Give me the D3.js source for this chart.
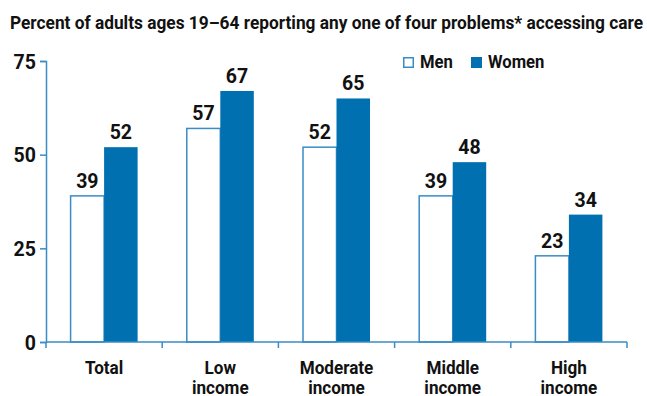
<!DOCTYPE html>
<html>
<head>
<meta charset="utf-8">
<script src="https://cdn.jsdelivr.net/npm/d3@7"></script>
<style>
  html, body { margin: 0; padding: 0; background: #fff; }
  svg { display: block; }
  text { font-family: Roboto, "Liberation Sans", sans-serif; font-weight: bold; fill: #111; }
</style>
</head>
<body>
<svg id="chart" width="647" height="396"></svg>
<script>
// Survey groups and the share reporting an access problem
const categories = [["Total"], ["Low", "income"], ["Moderate", "income"], ["Middle", "income"], ["High", "income"]];
const menValues = [39, 57, 52, 39, 23];
const womenValues = [52, 67, 65, 48, 34];
const yTicks = [0, 25, 50, 75];
const seriesNames = ["Men", "Women"];
const titleText = "Percent of adults ages 19\u201364 reporting any one of four problems* accessing care";

const blue = "#0070b0";
const axisBlue = "#3a8cc6";
const narrow = 0.9;   // horizontal squeeze for word labels

const svg = d3.select("#chart");
const plotLeft = 46, plotRight = 627, plotTop = 61, plotBase = 342;

const x = d3.scaleBand()
  .domain(d3.range(categories.length))
  .range([plotLeft, plotRight]);

const y = d3.scaleLinear().domain([0, 75]).range([plotBase, plotTop]);

const barW = 33.5;

// place a text at (px, py) with horizontal squeeze
function squeezed(sel, px, py, s) {
  return sel.attr("x", 0).attr("y", 0)
    .attr("transform", (d, i) => `translate(${typeof px === "function" ? px(d, i) : px},${typeof py === "function" ? py(d, i) : py}) scale(${s},1)`);
}

// Title
svg.append("text")
  .attr("x", 10).attr("y", 29)
  .attr("font-size", 18)
  .attr("font-weight", 500)
  .attr("textLength", 633)
  .attr("lengthAdjust", "spacingAndGlyphs")
  .text(titleText);

// Bars
const rows = categories.map((c, i) => ({ i, men: menValues[i], women: womenValues[i] }));
const groups = svg.append("g").selectAll("g").data(rows).join("g");

groups.append("rect")
  .attr("x", d => x(d.i) + x.bandwidth() / 2 - barW)
  .attr("y", d => y(d.men))
  .attr("width", barW)
  .attr("height", d => y(0) - y(d.men))
  .attr("fill", "#fff")
  .attr("stroke", axisBlue)
  .attr("stroke-width", 1.5);

groups.append("rect")
  .attr("x", d => x(d.i) + x.bandwidth() / 2)
  .attr("y", d => y(d.women))
  .attr("width", barW)
  .attr("height", d => y(0) - y(d.women))
  .attr("fill", blue);

// Value labels
groups.append("text")
  .attr("x", d => x(d.i) + x.bandwidth() / 2 - barW / 2)
  .attr("y", d => y(d.men) - 8)
  .attr("text-anchor", "middle")
  .attr("font-size", 19.5)
  .text(d => d.men);

groups.append("text")
  .attr("x", d => x(d.i) + x.bandwidth() / 2 + barW / 2)
  .attr("y", d => y(d.women) - 8)
  .attr("text-anchor", "middle")
  .attr("font-size", 19.5)
  .text(d => d.women);

// Y axis
const yAxis = svg.append("g")
  .attr("transform", `translate(${plotLeft},0)`)
  .call(d3.axisLeft(y).tickValues(yTicks).tickSize(6).tickPadding(4));
yAxis.select(".domain").attr("stroke", axisBlue).attr("stroke-width", 1.5);
yAxis.selectAll(".tick line").attr("stroke", axisBlue).attr("stroke-width", 1.5);
yAxis.selectAll(".tick text")
  .attr("font-size", 19.5)
  .attr("fill", "#111")
  .attr("dy", "0.36em")
  .style("font-family", "Roboto, 'Liberation Sans', sans-serif")
  .style("font-weight", "bold");

// X axis with boundary ticks between categories
const xAxisG = svg.append("g");
xAxisG.append("line")
  .attr("x1", plotLeft).attr("x2", plotRight)
  .attr("y1", y(0)).attr("y2", y(0))
  .attr("stroke", axisBlue).attr("stroke-width", 1.5);
const boundaries = d3.range(categories.length + 1).map(i => i < categories.length ? x(i) : x(i - 1) + x.bandwidth());
xAxisG.selectAll("line.bt")
  .data(boundaries)
  .join("line")
  .attr("class", "bt")
  .attr("x1", d => d).attr("x2", d => d)
  .attr("y1", y(0)).attr("y2", y(0) + 6)
  .attr("stroke", axisBlue).attr("stroke-width", 1.5);

// Category labels
const catLabels = svg.append("g").selectAll("text")
  .data(categories)
  .join("text")
  .attr("text-anchor", "middle")
  .attr("font-size", 19);
squeezed(catLabels, (d, i) => x(i) + x.bandwidth() / 2, 374, narrow);
catLabels.selectAll("tspan")
  .data(d => d)
  .join("tspan")
  .attr("x", 0)
  .attr("dy", (d, i) => i === 0 ? 0 : 20.5)
  .text(d => d);

// Legend
const legend = svg.append("g");
const legendItems = [
  { name: seriesNames[0], x: 403, fill: "#fff", stroke: axisBlue },
  { name: seriesNames[1], x: 471, fill: blue, stroke: blue }
];
legendItems.forEach(item => {
  legend.append("rect")
    .attr("x", item.x + 0.75).attr("y", 57.75)
    .attr("width", 9.5).attr("height", 9.5)
    .attr("fill", item.fill).attr("stroke", item.stroke).attr("stroke-width", 1.5);
  squeezed(legend.append("text").attr("font-size", 18.5).text(item.name), item.x + 17, 68, narrow);
});
</script>
</body>
</html>
